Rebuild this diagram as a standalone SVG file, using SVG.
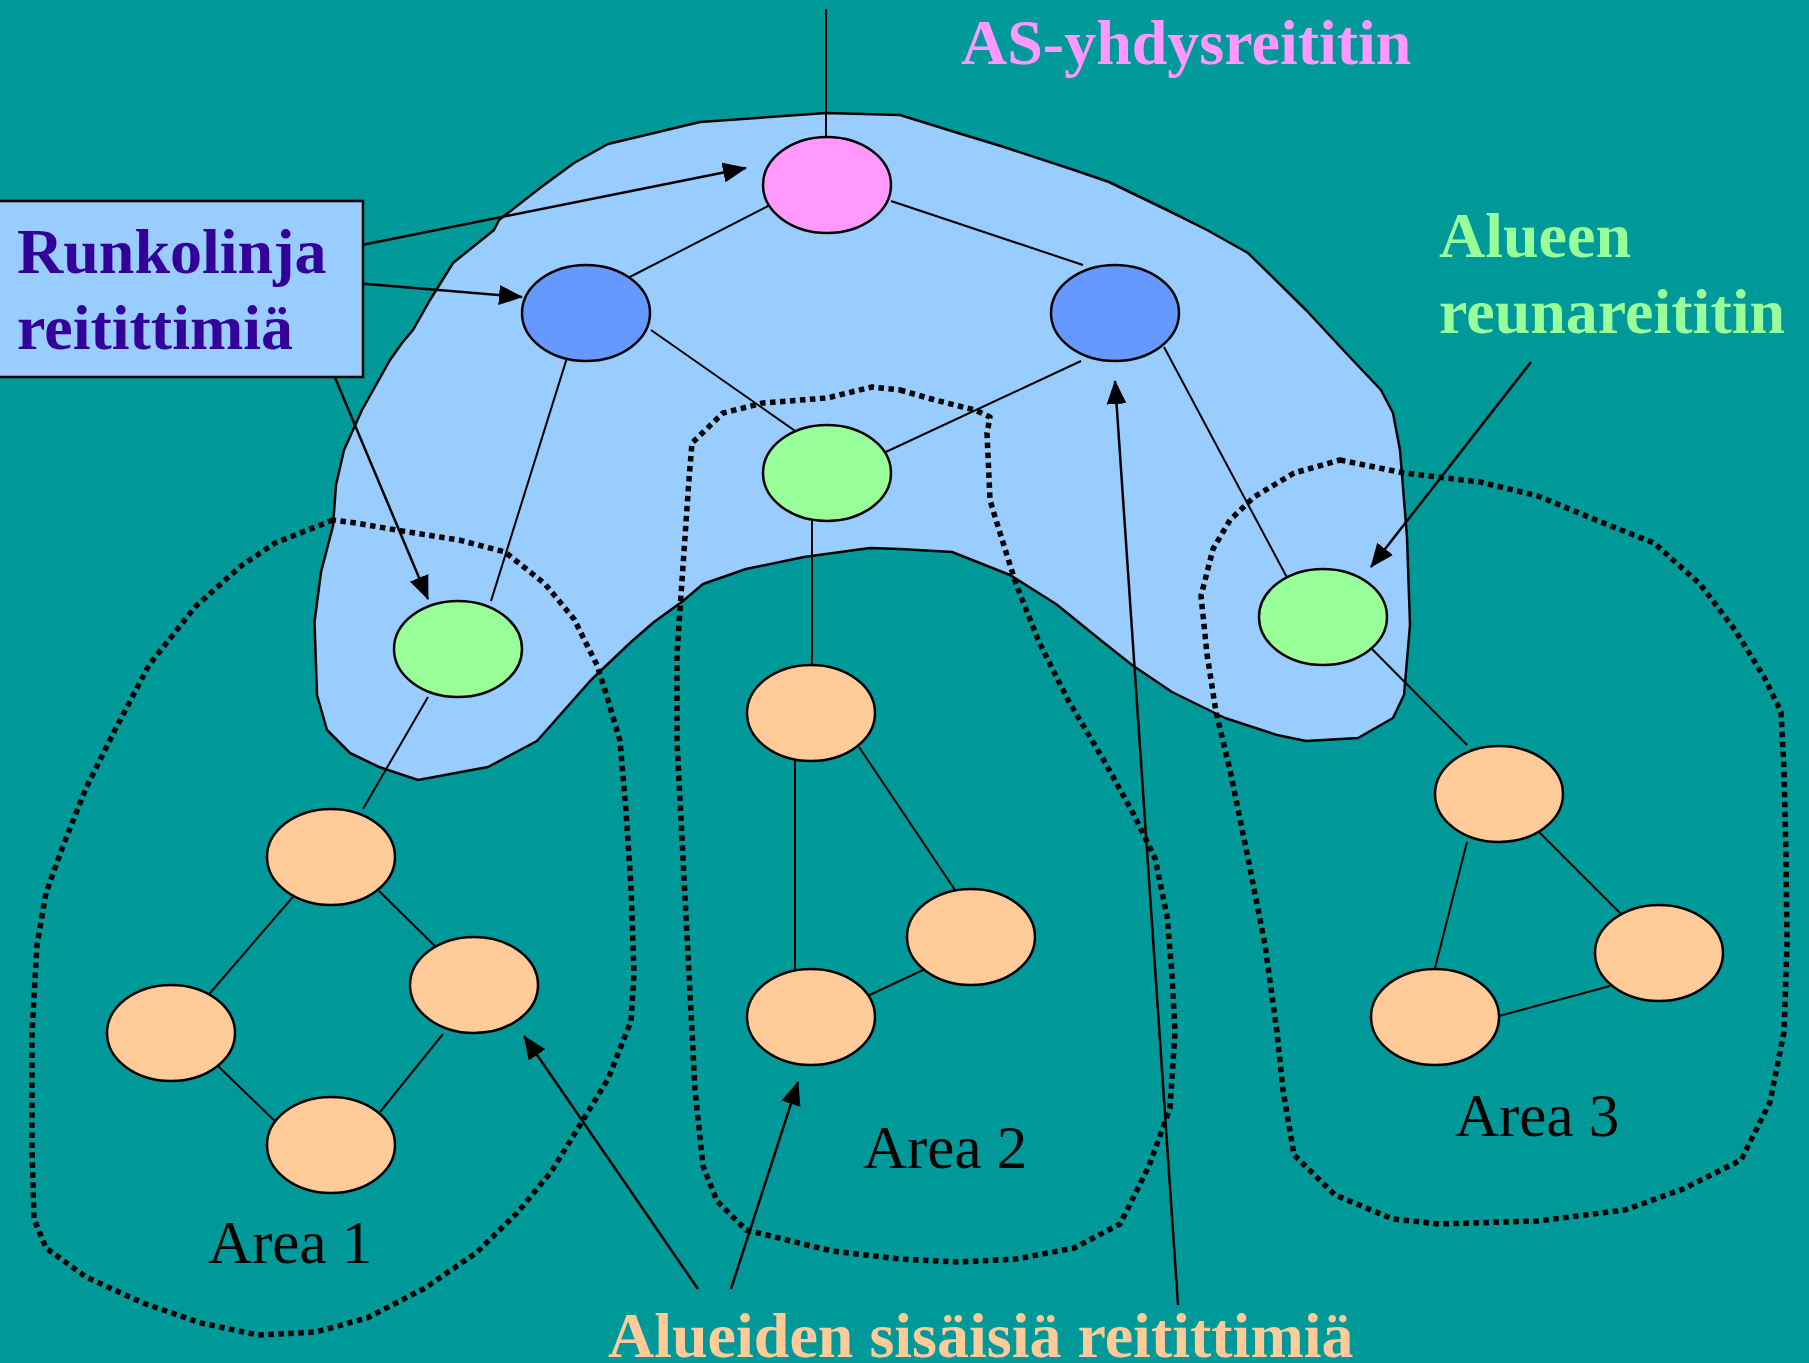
<svg xmlns="http://www.w3.org/2000/svg" width="1809" height="1363" viewBox="0 0 1809 1363">
  <defs>
    <marker id="arrow" viewBox="0 0 24 20" refX="23" refY="10" markerWidth="24" markerHeight="20" markerUnits="userSpaceOnUse" orient="auto">
      <path d="M0,0 L24,10 L0,20 z" fill="#000"/>
    </marker>
    <style>
      .node { stroke: #000; stroke-width: 2.5; }
      .as { fill: #FF99FF; }
      .bb { fill: #6699FF; }
      .abr { fill: #99FF99; }
      .ir { fill: #FFCC99; }
      .link { stroke: #000; stroke-width: 2; fill: none; }
      .ptr { stroke: #000; stroke-width: 2.5; fill: none; marker-end: url(#arrow); }
      .area { fill: none; stroke: #000; stroke-width: 5.5; stroke-dasharray: 5.5 4.5; stroke-linejoin: round; }
      .lbl { font-family: "Liberation Serif", "Times New Roman", serif; font-weight: bold; font-size: 64px; }
      .area-lbl { font-family: "Liberation Serif", "Times New Roman", serif; font-size: 61px; fill: #000; }
    </style>
  </defs>

  <!-- background -->
  <rect x="0" y="0" width="1809" height="1363" fill="#009999"/>

  <!-- backbone region -->
  <path id="backbone" fill="#99CCFF" stroke="#000" stroke-width="2.5" stroke-linejoin="round"
        d="M826,113 L900,115 L958,133 L1004,147 L1074,170 L1109,182 L1167,210 L1207,230 L1248,253 L1306,310 L1346,353 L1381,390 L1393,413 L1400,450 L1407,537 L1410,625 L1404,695 L1393,718 L1358,738 L1306,741 L1277,735 L1225,718 L1172,692 L1132,665 L1103,642 L1056,604 L1010,575 L952,552 L900,549 L870,548 L804,557 L746,569 L703,584 L683,601 L654,622 L631,642 L591,680 L537,741 L488,767 L418,780 L379,767 L350,753 L327,730 L317,695 L314.5,622 L321,572 L333,526 L336,485 L344,450 L362,410 L390,360 L402,343 L413,330 L430,300 L453,263 L494,230 L499,220 L540,188 L574,163 L608,144 L700,122 Z"/>

  <!-- area boundaries -->
  <g id="areas">
    <path id="area1" class="area" d="M333,520 L275,543 L241,566 L195,607 L149,665 L115,730 L86,788 L63,846 L46,893 L37,945 L32,1032 L32,1149 L34,1219 L46,1248 L86,1277 L143,1303 L201,1323 L258,1335 L316,1332 L367,1318 L425,1288 L476,1253 L517,1213 L551,1172 L580,1125 L608,1079 L631,1021 L634,974 L631,887 L626,811 L620,741 L608,700 L597,665 L574,619 L545,584 L505,552 L459,540 L402,531 L356,523 Z"/>
    <path id="area2" class="area" d="M900,390 L935,400 L975,410 L990,417 L987,433 L990,500 L996,520 L1016,584 L1039,642 L1068,700 L1103,759 L1132,811 L1155,858 L1167,916 L1172,974 L1175,1032 L1170,1108 L1149,1166 L1120,1224 L1074,1248 L1016,1259 L958,1262 L900,1259 L832,1251 L746,1230 L717,1201 L703,1166 L695,1090 L689,974 L683,858 L677,741 L677,654 L683,566 L689,479 L692,443 L723,413 L763,403 L827,398 L872,387 Z"/>
    <path id="area3" class="area" d="M1340,460 L1404,473 L1480,482 L1538,496 L1596,520 L1654,543 L1700,584 L1735,630 L1764,677 L1781,712 L1784,770 L1786,858 L1787,945 L1784,1032 L1770,1102 L1741,1160 L1683,1189 L1625,1210 L1538,1221 L1439,1224 L1393,1219 L1335,1195 L1294,1155 L1283,1090 L1277,1032 L1265,945 L1248,858 L1230,770 L1216,712 L1207,654 L1201,596 L1213,549 L1230,520 L1254,497 L1294,473 Z"/>
  </g>

  <!-- connectors -->
  <g id="connectors">
    <line class="link" x1="826" y1="9" x2="826" y2="137"/>
    <line class="link" x1="778" y1="201" x2="620" y2="282"/>
    <line class="link" x1="891" y1="201" x2="1083" y2="265"/>
    <line class="link" x1="651" y1="330" x2="811" y2="442"/>
    <line class="link" x1="1081" y1="361" x2="875" y2="457"/>
    <line class="link" x1="571" y1="345" x2="491" y2="601"/>
    <line class="link" x1="1164" y1="347" x2="1291" y2="585"/>
    <line class="link" x1="812" y1="521" x2="812" y2="665"/>
    <line class="link" x1="428" y1="697" x2="363" y2="809"/>
    <line class="link" x1="1372" y1="649" x2="1467" y2="745"/>
    <!-- area 1 -->
    <line class="link" x1="298" y1="891" x2="204" y2="1000"/>
    <line class="link" x1="379" y1="891" x2="443" y2="954"/>
    <line class="link" x1="218" y1="1066" x2="282" y2="1128"/>
    <line class="link" x1="443" y1="1034" x2="380" y2="1112"/>
    <!-- area 2 -->
    <line class="link" x1="795" y1="761" x2="795" y2="970"/>
    <line class="link" x1="859" y1="747" x2="955" y2="890"/>
    <line class="link" x1="859" y1="1000" x2="923" y2="970"/>
    <!-- area 3 -->
    <line class="link" x1="1467" y1="842" x2="1435" y2="968"/>
    <line class="link" x1="1532" y1="825" x2="1627" y2="920"/>
    <line class="link" x1="1499" y1="1016" x2="1610" y2="986"/>
    <!-- label pointers -->
    <line class="ptr" x1="347" y1="248" x2="746" y2="168"/>
    <line class="ptr" x1="331" y1="281" x2="522" y2="297"/>
    <line class="ptr" x1="315" y1="330" x2="428" y2="599"/>
    <line class="ptr" x1="1531" y1="362" x2="1371" y2="567"/>
    <line class="ptr" x1="698" y1="1289" x2="524" y2="1036"/>
    <line class="ptr" x1="731" y1="1289" x2="798" y2="1082"/>
    <line class="ptr" x1="1178" y1="1305" x2="1115" y2="381"/>
  </g>

  <!-- label box -->
  <g id="backbone-label">
    <rect x="-3" y="201" width="366" height="176" fill="#99CCFF" stroke="#000" stroke-width="2.5"/>
    <text class="lbl" fill="#330099" x="17" y="273">Runkolinja</text>
    <text class="lbl" fill="#330099" x="17" y="349">reitittimiä</text>
  </g>

  <!-- routers -->
  <g id="as-router"><ellipse class="node as" cx="827" cy="185" rx="64" ry="48"/></g>
  <g id="bb-left"><ellipse class="node bb" cx="586" cy="313" rx="64" ry="48"/></g>
  <g id="bb-right"><ellipse class="node bb" cx="1115" cy="313" rx="64" ry="48"/></g>
  <g id="abr-mid"><ellipse class="node abr" cx="827" cy="473" rx="64" ry="48"/></g>
  <g id="abr-left"><ellipse class="node abr" cx="458" cy="649" rx="64" ry="48"/></g>
  <g id="abr-right"><ellipse class="node abr" cx="1323" cy="617" rx="64" ry="48"/></g>

  <g id="a1-top"><ellipse class="node ir" cx="331" cy="857" rx="64" ry="48"/></g>
  <g id="a1-right"><ellipse class="node ir" cx="474" cy="985" rx="64" ry="48"/></g>
  <g id="a1-left"><ellipse class="node ir" cx="171" cy="1033" rx="64" ry="48"/></g>
  <g id="a1-bottom"><ellipse class="node ir" cx="331" cy="1145" rx="64" ry="48"/></g>

  <g id="a2-top"><ellipse class="node ir" cx="811" cy="713" rx="64" ry="48"/></g>
  <g id="a2-right"><ellipse class="node ir" cx="971" cy="937" rx="64" ry="48"/></g>
  <g id="a2-bottom"><ellipse class="node ir" cx="811" cy="1017" rx="64" ry="48"/></g>

  <g id="a3-top"><ellipse class="node ir" cx="1499" cy="794" rx="64" ry="48"/></g>
  <g id="a3-right"><ellipse class="node ir" cx="1659" cy="953" rx="64" ry="48"/></g>
  <g id="a3-left"><ellipse class="node ir" cx="1435" cy="1017" rx="64" ry="48"/></g>

  <!-- labels -->
  <text class="lbl" fill="#FF99FF" x="961" y="64">AS-yhdysreititin</text>
  <text class="lbl" fill="#99FF99" x="1439" y="257">Alueen</text>
  <text class="lbl" fill="#99FF99" x="1439" y="333">reunareititin</text>
  <text class="lbl" fill="#FFCC99" x="608" y="1357">Alueiden sisäisiä reitittimiä</text>
  <text class="area-lbl" x="208" y="1263">Area 1</text>
  <text class="area-lbl" x="863" y="1168">Area 2</text>
  <text class="area-lbl" x="1455" y="1136">Area 3</text>
</svg>
